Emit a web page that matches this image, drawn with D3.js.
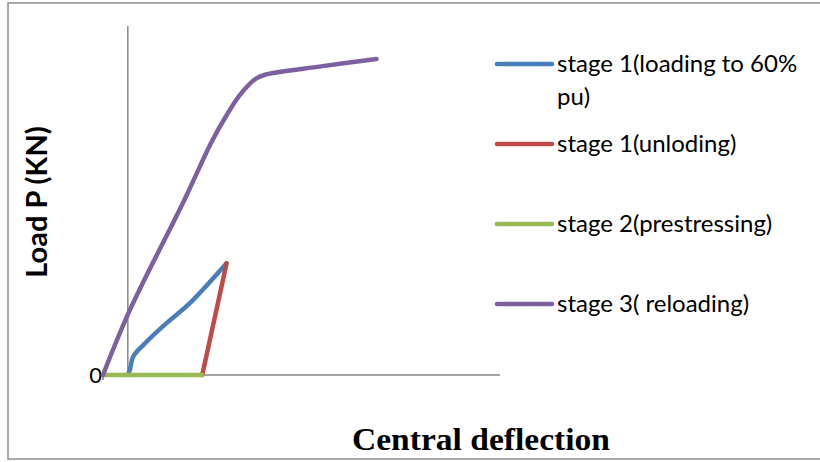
<!DOCTYPE html>
<html>
    <head>
        <style>
            body { margin: 0; background: #fff; }
            .legend text { font: 24px Lato, sans-serif; fill: #000; }
            .ytitle { font: bold 29px Lato, sans-serif; }
            .xtitle { font: bold 31px "Liberation Serif", serif; }
        </style>
        <script src="https://d3js.org/d3.v7.min.js"></script>
    </head>
    <body>
        <svg width="820" height="462"></svg>
        <script>
            // deflection / load pairs (arbitrary units)
            var stage1Load = [[0, 0], [0.4, 1.0], [1.1, 3.7], [3.1, 6.0], [7.8, 10.4], [12.5, 14.4], [19.9, 22.4]];
            var stage1Unload = [[19.9, 22.4], [15.0, 0]];
            var stage2Prestress = [[-5, 0], [15.0, 0]];
            var stage3Reload = [[-5, 0], [0.4, 13.0], [11.1, 34.5], [17.0, 47.0], [19.9, 52.1],
                                [22.6, 56.2], [25.9, 59.5], [27.9, 60.3], [38.9, 61.9], [50.1, 63.4]];

            var seriesNames = ["stage 1(loading to 60%\npu)", "stage 1(unloding)", "stage 2(prestressing)", "stage 3( reloading)"];
            var seriesColors = ["#4a7ebb", "#be4b48", "#98b954", "#7d60a0"];
            var yTickLabels = ["0"];

            var svg = d3.select("svg");

            // chart border (right side runs off the picture)
            svg.append("rect")
               .attr("x", 8).attr("y", 3)
               .attr("width", 830).attr("height", 456)
               .attr("fill", "none")
               .attr("stroke", "#8c8c8c")
               .attr("stroke-width", 1.5);

            var x = d3.scaleLinear().domain([-5, 75]).range([103, 500]);
            var y = d3.scaleLinear().domain([0, 70]).range([375, 26]);

            // axes
            svg.append("line")
               .attr("x1", x(0)).attr("x2", x(0))
               .attr("y1", y(70)).attr("y2", y(0))
               .attr("stroke", "#868686").attr("stroke-width", 1.5);
            svg.append("line")
               .attr("x1", x(-5)).attr("x2", x(75))
               .attr("y1", y(0)).attr("y2", y(0))
               .attr("stroke", "#868686").attr("stroke-width", 1.5);
            svg.append("line")
               .attr("x1", x(-5)).attr("x2", x(-5))
               .attr("y1", y(0)).attr("y2", y(0) + 5)
               .attr("stroke", "#868686").attr("stroke-width", 1.5);

            svg.selectAll(".ytick")
               .data(yTickLabels)
               .enter().append("text")
               .attr("class", "ytick")
               .attr("x", x(-5) - 1)
               .attr("y", y(0))
               .attr("dy", "0.36em")
               .attr("text-anchor", "end")
               .style("font", "22px Lato, sans-serif")
               .text(function(d) { return d; });

            var line = d3.line()
                         .x(function(d) { return x(d[0]); })
                         .y(function(d) { return y(d[1]); })
                         .curve(d3.curveCatmullRom.alpha(0.5));

            var allSeries = [stage1Load, stage1Unload, stage2Prestress, stage3Reload];

            svg.selectAll(".series")
               .data(allSeries)
               .enter().append("path")
               .attr("class", "series")
               .attr("d", line)
               .attr("fill", "none")
               .attr("stroke", function(d, i) { return seriesColors[i]; })
               .attr("stroke-width", 4.5)
               .attr("stroke-linecap", "round")
               .attr("stroke-linejoin", "round");

            // legend
            var legendY = [64, 144, 224, 304];
            var legend = svg.append("g").attr("class", "legend");
            var items = legend.selectAll("g")
                              .data(seriesNames)
                              .enter().append("g")
                              .attr("transform", function(d, i) { return "translate(497," + legendY[i] + ")"; });
            items.append("line")
                 .attr("x1", 0).attr("x2", 55)
                 .attr("stroke", function(d, i) { return seriesColors[i]; })
                 .attr("stroke-width", 4.5)
                 .attr("stroke-linecap", "round");
            items.append("text")
                 .attr("x", 60)
                 .attr("y", 0)
                 .selectAll("tspan")
                 .data(function(d) { return d.split("\n"); })
                 .enter().append("tspan")
                 .attr("x", 60)
                 .attr("dy", function(d, i) { return i === 0 ? "0.35em" : "33"; })
                 .text(function(d) { return d; });

            svg.append("text")
               .attr("class", "ytitle")
               .attr("transform", "translate(47,202) rotate(-90)")
               .attr("text-anchor", "middle")
               .text("Load P (KN)");

            svg.append("text")
               .attr("class", "xtitle")
               .attr("x", 352)
               .attr("y", 450)
               .attr("textLength", 258)
               .attr("lengthAdjust", "spacingAndGlyphs")
               .text("Central deflection");
        </script>
    </body>
</html>
